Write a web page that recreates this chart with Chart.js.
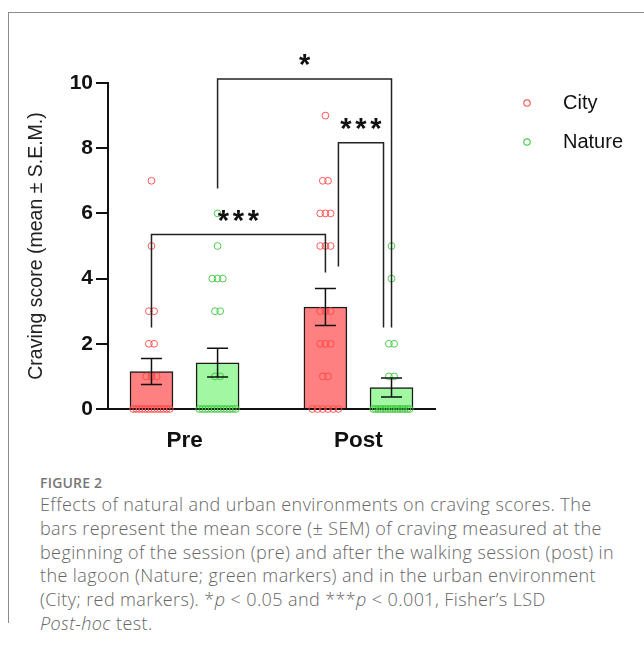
<!DOCTYPE html>
<html lang="en">
<head>
<meta charset="utf-8" />
<title>Craving scores</title>
<script src="https://cdn.jsdelivr.net/npm/chart.js"></script>
<style>
	html, body { margin: 0; padding: 0; background: #fff; overflow: hidden; }
	#figure {
		position: absolute; left: 8px; top: 12px; width: 700px; height: 610px;
		border-left: 1px solid #8c8c8c; border-top: 1px solid #8c8c8c;
	}
	#chartBox { position: absolute; left: 0; top: 0; width: 635px; height: 450px; }
	#figLabel {
		position: absolute; left: 31px; top: 460px; line-height: 18px;
		font: 600 14px "Open Sans", sans-serif; color: #777; letter-spacing: 0.2px;
	}
	#caption {
		position: absolute; left: 31px; top: 480px; margin: 0; white-space: nowrap;
		font: 300 18px "Open Sans", sans-serif; line-height: 23.8px; color: #666;
		letter-spacing: 0.4px;
	}
</style>
</head>
<body>
<div id="figure">
	<div id="chartBox"><canvas id="chart"></canvas></div>
	<div id="figLabel">FIGURE 2</div>
	<p id="caption">Effects of natural and urban environments on craving scores. The<br>bars represent the mean score (± SEM) of craving measured at the<br>beginning of the session (pre) and after the walking session (post) in<br>the lagoon (Nature; green markers) and in the urban environment<br>(City; red markers). *<i>p</i> &lt; 0.05 and ***<i>p</i> &lt; 0.001, Fisher’s LSD<br><i>Post-hoc</i> test.</p>
</div>

<script>
// groups on the x axis, series within each group
const groups = ["Pre", "Post"];
const seriesNames = ["City", "Nature"];

// bar heights (mean) and error bars (SEM), one value per group
const cityMean = [1.15, 3.13];
const citySem = [0.40, 0.57];
const natureMean = [1.42, 0.66];
const natureSem = [0.44, 0.29];

// individual scores per participant
const cityPre = [0, 0, 0, 0, 0, 0, 0, 0, 0, 0, 0, 0, 0, 1, 1, 1, 2, 2, 3, 3, 5, 7];
const cityPost = [0, 0, 0, 0, 0, 0, 1, 1, 2, 2, 2, 3, 3, 3, 5, 5, 5, 6, 6, 6, 7, 7, 9];
const naturePre = [0, 0, 0, 0, 0, 0, 0, 0, 0, 0, 0, 0, 0, 1, 1, 3, 3, 4, 4, 4, 5, 6];
const naturePost = [0, 0, 0, 0, 0, 0, 0, 0, 0, 0, 0, 0, 0, 0, 0, 0, 1, 1, 2, 2, 4, 5];

const yTicks = [0, 2, 4, 6, 8, 10];

// significance brackets: [group, series] ends, heights in score units
const brackets = [
	{ from: [0, 0], to: [1, 0], top: 5.35, fromEnd: 2.5, toEnd: 4.19, label: "***" },
	{ from: [1, 0], to: [1, 1], top: 8.17, fromEnd: 4.37, toEnd: 2.5, label: "***" },
	{ from: [0, 1], to: [1, 1], top: 10.12, fromEnd: 6.76, toEnd: 2.5, label: "*" },
];

// layout bits (not data)
const barShift = 0.19;             // bar centre offset from group centre, x units
const bracketInset = [[0, 0], [13, -8], [0, 0]]; // px nudges of bracket legs
const cityRed = "#ff8080";
const natureGreen = "#a2f7a2";
const font = "Liberation Sans, Arial, sans-serif";

function barX(g, s) {
	return g + 1 + (s === 0 ? -barShift : barShift);
}

// spread equal values side by side so the dots do not sit on each other
function swarm(values, g, s) {
	var counts = {};
	values.forEach(function (v) { counts[v] = (counts[v] || 0) + 1; });
	var pts = [];
	Object.keys(counts).forEach(function (k) {
		var n = counts[k];
		var step = n > 1 ? Math.min(0.03, 0.21 / (n - 1)) : 0;
		for (var i = 0; i < n; i++) {
			pts.push({ x: barX(g, s) + (i - (n - 1) / 2) * step, y: +k });
		}
	});
	return pts;
}

// mean +- SEM whiskers over each bar
const errorBars = {
	id: "errorBars",
	afterDatasetsDraw(chart) {
		var ctx = chart.ctx, y = chart.scales.y;
		chart.data.datasets.forEach(function (ds, di) {
			if (!ds.sem) return;
			chart.getDatasetMeta(di).data.forEach(function (bar, i) {
				var m = ds.data[i].y, e = ds.sem[i];
				var top = y.getPixelForValue(m + e), bot = y.getPixelForValue(m - e);
				ctx.save();
				ctx.strokeStyle = "#111";
				ctx.lineWidth = 1.5;
				ctx.beginPath();
				ctx.moveTo(bar.x, top); ctx.lineTo(bar.x, bot);
				ctx.moveTo(bar.x - 10.5, top); ctx.lineTo(bar.x + 10.5, top);
				ctx.moveTo(bar.x - 10.5, bot); ctx.lineTo(bar.x + 10.5, bot);
				ctx.stroke();
				ctx.restore();
			});
		});
	},
};

// significance brackets and stars
const sigBrackets = {
	id: "sigBrackets",
	afterDatasetsDraw(chart) {
		var ctx = chart.ctx, x = chart.scales.x, y = chart.scales.y;
		brackets.forEach(function (b, i) {
			var x1 = x.getPixelForValue(barX(b.from[0], b.from[1])) + bracketInset[i][0];
			var x2 = x.getPixelForValue(barX(b.to[0], b.to[1])) + bracketInset[i][1];
			var yt = y.getPixelForValue(b.top);
			ctx.save();
			ctx.strokeStyle = "#222";
			ctx.lineWidth = 1.5;
			ctx.beginPath();
			ctx.moveTo(x1, y.getPixelForValue(b.fromEnd));
			ctx.lineTo(x1, yt);
			ctx.lineTo(x2, yt);
			ctx.lineTo(x2, y.getPixelForValue(b.toEnd));
			ctx.stroke();
			ctx.fillStyle = "#111";
			ctx.font = "bold 29px " + font;
			ctx.textAlign = "center";
			ctx.textBaseline = "alphabetic";
			var mid = (x1 + x2) / 2, n = b.label.length;
			for (var k = 0; k < n; k++) {
				ctx.fillText("*", mid + (k - (n - 1) / 2) * 15, yt - 5);
			}
			ctx.restore();
		});
	},
};

// legend to the right of the plot
const sideLegend = {
	id: "sideLegend",
	afterDraw(chart) {
		var ctx = chart.ctx, area = chart.chartArea;
		var colors = ["#ff5a5a", "#4ccc4c"];
		seriesNames.forEach(function (name, i) {
			var cy = area.top + 20 + i * 39;
			ctx.save();
			ctx.strokeStyle = colors[i];
			ctx.lineWidth = 1.2;
			ctx.beginPath();
			ctx.arc(area.right + 92, cy, 3.2, 0, Math.PI * 2);
			ctx.stroke();
			ctx.fillStyle = "#111";
			ctx.font = "20px " + font;
			ctx.textBaseline = "middle";
			ctx.fillText(name, area.right + 128, cy);
			ctx.restore();
		});
	},
};

function dots(label, color, pre, post) {
	var s = label === "City" ? 0 : 1;
	return {
		type: "scatter",
		label: label,
		data: swarm(pre, 0, s).concat(swarm(post, 1, s)),
		pointRadius: 3.4,
		pointHoverRadius: 3.4,
		pointBorderWidth: 1,
		pointBorderColor: color,
		pointBackgroundColor: "rgba(0,0,0,0)",
		clip: false,
		order: 1,
	};
}

function bars(label, s, fill, mean, sem) {
	return {
		type: "bar",
		label: label,
		data: groups.map(function (g, i) { return { x: barX(i, s), y: mean[i] }; }),
		sem: sem,
		backgroundColor: fill,
		borderColor: "#1a1a1a",
		borderWidth: 1.5,
		barThickness: 43,
		grouped: false,
		order: 2,
	};
}

new Chart(document.getElementById("chart"), {
	type: "bar",
	data: {
		datasets: [
			dots("City", "rgba(255,70,70,0.9)", cityPre, cityPost),
			dots("Nature", "rgba(60,200,60,0.9)", naturePre, naturePost),
			bars("City", 0, cityRed, cityMean, citySem),
			bars("Nature", 1, natureGreen, natureMean, natureSem),
		],
	},
	options: {
		responsive: true,
		maintainAspectRatio: false,
		animation: false,
		layout: { padding: { left: 0, top: 70, right: 209, bottom: 0 } },
		plugins: { legend: { display: false }, tooltip: { enabled: false } },
		scales: {
			x: {
				type: "linear",
				min: 0.56,
				max: 2.44,
				offset: false,
				afterBuildTicks: function (scale) {
					scale.ticks = groups.map(function (g, i) { return { value: i + 1 }; });
				},
				ticks: {
					callback: function (v) { return groups[v - 1]; },
					color: "#111",
					font: { family: font, size: 22.5, weight: "bold" },
					padding: 18,
					maxRotation: 0,
					autoSkip: false,
				},
				grid: { display: false, drawTicks: false },
				border: { display: true, color: "#111", width: 2 },
				afterFit: function (scale) { scale.height = 54; },
			},
			y: {
				min: 0,
				max: 10,
				afterBuildTicks: function (scale) {
					scale.ticks = yTicks.map(function (v) { return { value: v }; });
				},
				ticks: {
					color: "#111",
					font: { family: font, size: 21, weight: "bold" },
					padding: 3,
				},
				grid: { drawOnChartArea: false, drawTicks: true, tickLength: 12, color: "#111", lineWidth: 2 },
				border: { display: true, color: "#111", width: 2 },
				title: {
					display: true,
					text: "Craving score (mean ± S.E.M.)",
					color: "#222",
					font: { family: font, size: 19.5 },
					padding: { top: 16, bottom: 0 },
				},
				afterFit: function (scale) { scale.width = 99; },
			},
		},
	},
	plugins: [errorBars, sigBrackets, sideLegend],
});
</script>
</body>
</html>
